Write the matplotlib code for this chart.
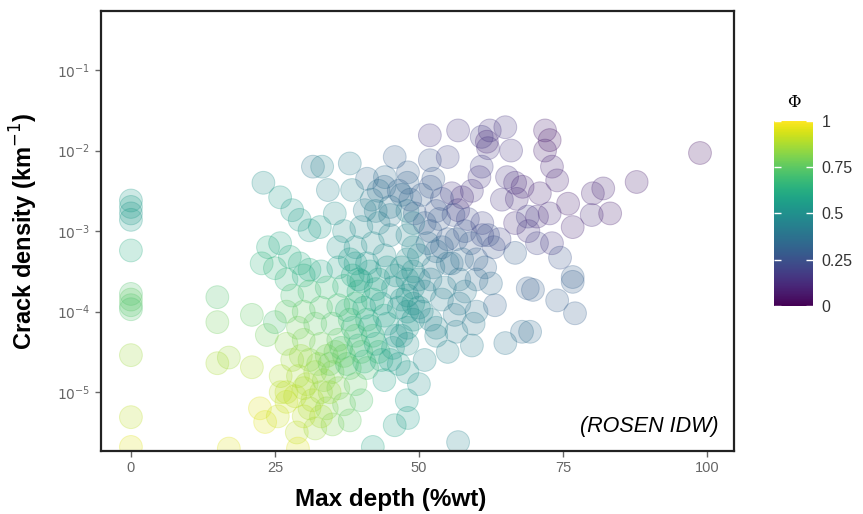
import numpy as np
import matplotlib
matplotlib.use("Agg")
import matplotlib.pyplot as plt
from matplotlib.colors import Normalize

plt.rcParams['font.family'] = ['Liberation Sans', 'DejaVu Sans']

# ---- data: max depth (%wt), log10 crack density, phi
depth = [
    0, 0, 0, 0, 0, 0, 0, 0, 0, 0, 0, 0,
    15, 15, 21, 17, 15, 21, 17, 23.6, 25, 22.4, 23.3, 27, 28.8, 29, 25.5, 26,
    23, 25.9, 28, 29.3, 31, 31.6, 23.8, 25.9, 22.7, 25, 27.6, 29.3, 31,
    27, 30, 33, 36, 39, 28, 31, 34, 37, 40, 43, 27, 30, 33, 36, 39, 42,
    29, 32, 35, 38, 41, 44, 27, 30, 33, 36, 39, 42, 28, 31, 34, 37, 40, 43,
    26, 29, 32, 35, 38, 41, 27, 30, 33, 36, 39, 31, 34, 37, 40, 35, 38, 32,
    48, 49, 48, 49, 48, 49, 48, 49, 48, 49, 48, 49, 48, 47, 48, 47, 50, 50, 47, 50,
    41.8, 40.6, 35.4, 32.8, 38.4, 34.2, 44.1, 48.1, 48, 45.8, 33.2, 38.0, 49.3, 48.5,
    37, 40, 43, 45, 36, 39, 42, 44, 38, 41, 45, 43,
    51.9, 56.8, 60.9, 61.8, 62, 65, 51.9, 55, 60.9, 60.5, 65.3, 66.7, 64.4, 57.5,
    55.7, 59.2, 56.8, 66.7, 68.9, 52, 53, 55.7, 66.7,
    52, 55, 58, 61, 63, 60, 53, 57, 60, 63.2, 52, 54, 57, 60, 56.2, 52, 55, 59.2,
    65, 67.9, 68.9, 53, 51, 45, 48, 44, 47.9, 45.8, 48.1, 56.8, 42, 50, 46,
    71.9, 72.7, 71.9, 73.1, 74, 98.8, 87.8, 82, 80.2, 75.9, 80, 83.2, 76.7, 71,
    70.5, 72.7, 70.5, 73.1, 76.7, 76.7, 74, 77.1, 69.8, 69.3, 68, 67, 69, 64, 66,
    62.3, 74.5,
    # denser core
    38.5, 41.5, 44.5, 46, 39.5, 42.5, 45.5, 37.5, 40.5, 43.5, 46.5, 38.5, 41.5, 44.5,
    36.5, 39.5, 42.5, 45.5, 34.5, 37.5, 40.5, 43.5, 46.5,
    51, 53.5, 56, 58.5, 61, 51.5, 54, 56.5, 59, 62, 52.5, 55, 57.5, 61.5, 51, 54.5,
    58, 62.5, 50.5, 53, 56.5, 59.5,
    41, 44, 46.5, 42.5, 45, 47, 39.5, 50.5, 52.5, 54,
    29.5, 32.5, 35.5, 30.5, 33.5, 28.5, 31.5, 34.5, 30, 33,
]
log10_density = [
    -2.62, -2.70, -2.78, -2.86, -3.24, -3.78, -3.85, -3.92, -3.97, -4.54, -5.31, -5.68,
    -3.82, -4.13, -4.04, -4.57, -4.64, -4.69, -5.70, -4.29, -4.13, -5.2, -5.37, -5.12,
    -5.5, -5.70, -5.3, -5.0,
    -2.40, -2.58, -2.74, -2.86, -2.99, -2.2, -3.2, -3.15, -3.4, -3.46, -3.32, -3.4, -3.48,
    -3.6, -3.55, -3.5, -3.45, -3.4, -3.8, -3.75, -3.7, -3.68, -3.62, -3.6,
    -4.0, -4.0, -3.95, -3.92, -3.9, -3.85, -4.2, -4.15, -4.15, -4.1, -4.1, -4.05,
    -4.4, -4.35, -4.4, -4.35, -4.3, -4.3, -4.6, -4.6, -4.55, -4.55, -4.5, -4.5,
    -4.8, -4.8, -4.75, -4.75, -4.7, -4.7, -5.0, -4.95, -5.0, -4.95, -4.9,
    -5.2, -5.2, -5.15, -5.1, -5.4, -5.35, -5.45,
    -2.75, -2.9, -3.05, -3.2, -3.35, -3.5, -3.6, -3.7, -3.8, -3.9, -4.0, -4.1, -4.2,
    -4.3, -4.4, -3.45, -3.3, -3.6, -3.85, -3.95,
    -2.61, -2.74, -2.78, -2.95, -2.49, -2.49, -2.33, -2.27, -2.40, -2.08, -2.20, -2.16,
    -2.78, -2.61,
    -3.0, -2.95, -2.9, -3.05, -3.2, -3.2, -3.15, -3.3, -3.35, -3.4, -2.7, -2.5,
    -1.81, -1.75, -1.83, -1.89, -1.97, -1.71, -2.12, -2.08, -2.2, -2.33, -2.33, -2.4,
    -2.61, -2.58, -2.53, -2.5, -2.74, -2.9, -2.82, -2.45, -2.75, -3.4, -3.27,
    -3.0, -3.1, -3.0, -3.05, -3.2, -3.35, -3.25, -3.6, -3.6, -3.92, -3.6, -3.85, -3.9,
    -4.0, -4.04, -4.1, -4.5, -4.42,
    -4.39, -4.25, -3.71, -4.3, -4.6, -4.6, -4.75, -4.85, -5.1, -5.41, -5.32, -5.62,
    -5.68, -4.9, -4.3,
    -1.75, -1.87, -2.0, -2.2, -2.37, -2.03, -2.39, -2.47, -2.53, -2.66, -2.8, -2.78,
    -2.95, -2.53, -2.82, -2.78, -3.15, -3.15, -3.57, -3.63, -3.86, -4.02, -3.73, -4.25,
    -2.45, -2.6, -3.0, -3.1, -2.0,
    -1.75, -3.33,
    -3.55, -3.5, -3.45, -3.55, -3.75, -3.72, -3.7, -3.98, -3.95, -3.9, -3.95, -4.2,
    -4.18, -4.15, -4.45, -4.42, -4.4, -4.45, -4.65, -4.65, -4.62, -4.6, -4.65,
    -2.9, -2.85, -2.8, -2.85, -2.9, -3.15, -3.2, -3.1, -3.15, -3.05, -3.45, -3.4,
    -3.35, -3.45, -3.75, -3.7, -3.75, -3.65, -4.0, -4.2, -4.25, -4.15,
    -2.35, -2.45, -2.5, -2.75, -2.8, -2.55, -3.6, -2.55, -2.35, -2.6,
    -4.55, -4.65, -4.5, -4.9, -4.85, -5.05, -5.1, -5.0, -5.3, -5.3,
]
phi = [
    0.55, 0.55, 0.52, 0.55, 0.62, 0.72, 0.75, 0.73, 0.72, 0.85, 0.9, 0.95,
    0.72, 0.78, 0.75, 0.85, 0.87, 0.88, 0.95, 0.78, 0.7, 0.95, 0.95, 0.92, 0.9, 0.95,
    0.92, 0.9,
    0.5, 0.55, 0.55, 0.55, 0.55, 0.4, 0.62, 0.6, 0.65, 0.65, 0.62, 0.62, 0.62,
    0.65, 0.62, 0.6, 0.58, 0.55, 0.7, 0.7, 0.68, 0.65, 0.6, 0.58,
    0.75, 0.75, 0.72, 0.7, 0.68, 0.62, 0.78, 0.75, 0.72, 0.7, 0.65, 0.6,
    0.82, 0.8, 0.78, 0.75, 0.72, 0.68, 0.85, 0.83, 0.8, 0.77, 0.72, 0.68,
    0.88, 0.87, 0.85, 0.8, 0.75, 0.7, 0.9, 0.88, 0.85, 0.8, 0.75,
    0.87, 0.82, 0.78, 0.72, 0.8, 0.75, 0.85,
    0.45, 0.45, 0.45, 0.47, 0.48, 0.5, 0.5, 0.5, 0.5, 0.52, 0.52, 0.52, 0.52,
    0.5, 0.5, 0.5, 0.45, 0.47, 0.52, 0.5,
    0.4, 0.42, 0.5, 0.55, 0.45, 0.45, 0.35, 0.3, 0.32, 0.3, 0.45, 0.42, 0.3, 0.3,
    0.5, 0.47, 0.45, 0.45, 0.52, 0.5, 0.48, 0.48, 0.55, 0.52, 0.38, 0.38,
    0.15, 0.15, 0.18, 0.1, 0.15, 0.15, 0.25, 0.2, 0.18, 0.15, 0.15, 0.12,
    0.15, 0.12, 0.15, 0.15, 0.15, 0.12, 0.18, 0.25, 0.25, 0.35, 0.3,
    0.3, 0.28, 0.25, 0.22, 0.25, 0.3, 0.35, 0.38, 0.35, 0.32, 0.4, 0.42, 0.4,
    0.38, 0.4, 0.45, 0.45, 0.42,
    0.38, 0.35, 0.3, 0.45, 0.47, 0.55, 0.52, 0.58, 0.55, 0.58, 0.55, 0.45,
    0.6, 0.5, 0.52,
    0.08, 0.05, 0.08, 0.1, 0.1, 0.05, 0.08, 0.1, 0.1, 0.08, 0.12, 0.08,
    0.1, 0.1, 0.12, 0.12, 0.2, 0.15, 0.3, 0.3, 0.3, 0.3, 0.3, 0.35,
    0.1, 0.12, 0.15, 0.2, 0.15,
    0.15, 0.25,
    0.6, 0.55, 0.52, 0.5, 0.62, 0.58, 0.52, 0.65, 0.6, 0.55, 0.52, 0.65,
    0.6, 0.55, 0.7, 0.65, 0.6, 0.55, 0.75, 0.7, 0.65, 0.6, 0.55,
    0.3, 0.28, 0.25, 0.22, 0.2, 0.35, 0.32, 0.3, 0.28, 0.25, 0.4, 0.38,
    0.35, 0.32, 0.45, 0.42, 0.4, 0.35, 0.47, 0.45, 0.42, 0.4,
    0.35, 0.33, 0.32, 0.42, 0.4, 0.35, 0.58, 0.3, 0.28, 0.25,
    0.85, 0.82, 0.78, 0.87, 0.83, 0.9, 0.88, 0.85, 0.9, 0.87,
]

depth = np.array(depth)
density = 10.0 ** np.array(log10_density)
phi = np.array(phi)

cmap = plt.cm.viridis
norm = Normalize(0, 1)
face = cmap(norm(phi))
face[:, 3] = 0.22
edge = cmap(norm(phi))
edge[:, 3] = 0.28

fig = plt.figure(figsize=(8.63, 5.14), dpi=100)
ax = fig.add_axes([0.117, 0.1226, 0.7335, 0.856])

ax.scatter(depth, density, s=270, c=face, edgecolors=edge, linewidths=0.7)
ax.set_yscale('log')
ax.set_xlim(-5.2, 104.7)
ax.set_ylim(10 ** -5.73, 10 ** -0.267)

ax.set_xticks([0, 25, 50, 75, 100])
ax.set_xticklabels(['0', '25', '50', '75', '100'])
ax.set_yticks([1e-5, 1e-4, 1e-3, 1e-2, 1e-1])
ax.set_yticklabels(['$10^{-5}$', '$10^{-4}$', '$10^{-3}$', '$10^{-2}$', '$10^{-1}$'])
ax.minorticks_off()
ax.tick_params(axis='both', direction='out', length=4, width=1, color='#666666',
               labelcolor='#666666')
ax.tick_params(axis='x', labelsize=10.5)
ax.tick_params(axis='y', labelsize=10)
for sp in ax.spines.values():
    sp.set_linewidth(1.6)
    sp.set_color('#222222')

ax.set_xlabel('Max depth (%wt)', fontsize=17.5, fontweight='bold')
ax.xaxis.set_label_coords(0.457, -0.085)
ax.set_ylabel('Crack density (km$^{-1}$)', fontsize=17, fontweight='bold', labelpad=12)

ax.text(0.975, 0.055, '(ROSEN IDW)', transform=ax.transAxes, ha='right', va='center',
        fontsize=15.5, style='italic')

# colourbar
cax = fig.add_axes([0.897, 0.405, 0.045, 0.36])
sm = plt.cm.ScalarMappable(norm=norm, cmap=cmap)
cb = fig.colorbar(sm, cax=cax, ticks=[0, 0.25, 0.5, 0.75, 1])
cb.ax.set_yticklabels(['0', '0.25', '0.5', '0.75', '1'])
cb.outline.set_visible(False)
cb.ax.yaxis.set_ticks_position('both')
cb.ax.tick_params(length=5, width=1, color='white', direction='in', labelsize=11.5,
                  labelcolor='#333333', pad=6, labelleft=False, labelright=True)
cb.ax.set_title('Φ', fontsize=12, pad=10, family=['DejaVu Serif'])

fig.savefig('out.png', dpi=100)
